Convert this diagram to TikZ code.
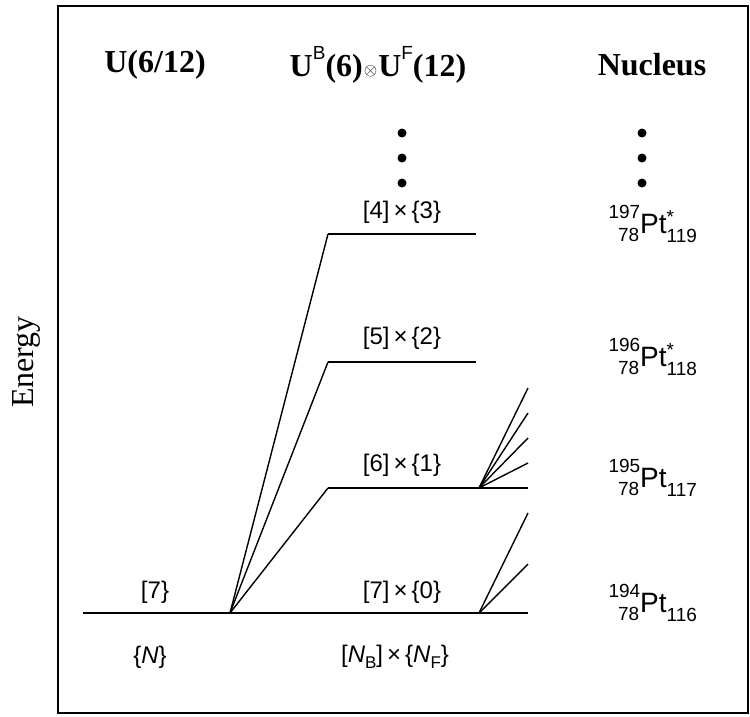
\documentclass[tikz,border=0pt]{standalone}
\usepackage{fontspec}
\setmainfont{Liberation Serif}
\newfontfamily\lab{Liberation Sans}
\newcommand\nucl[4]{%
  {\fontsize{19}{19}\selectfont
   \makebox[33pt][r]{\raisebox{15pt}{#1}}\llap{\raisebox{-8pt}{#2}\hspace{1pt}}}%
  {\fontsize{28}{28}\selectfont Pt}%
  {\fontsize{19}{19}\selectfont
   \rlap{\raisebox{10pt}{#3}}\raisebox{-9pt}{#4}}}
\newcommand\hsup[1]{\raisebox{17pt}{\lab\mdseries\fontsize{19}{19}\selectfont #1}}
\begin{document}
\begin{tikzpicture}[x=1pt,y=-1pt,
  bar/.style={line width=2.8pt},
  fan/.style={line width=1.4pt},
  lvl/.style={font=\lab\fontsize{24}{24}\selectfont, inner sep=0pt},
  hdr/.style={font=\bfseries\fontsize{32}{32}\selectfont, inner sep=0pt},
  nuc/.style={font=\lab, inner sep=0pt, anchor=base west},
  vdot/.style={circle, fill, inner sep=0pt, minimum size=9pt}]
\useasboundingbox (0,0) rectangle (750,716);
\draw[line width=2pt] (58,6) rectangle (748,713);
% headers
\node[hdr] (h1) at (155,65) {U(6/12)};
\node[hdr] (h2) at (378,65) {U\hsup{B}(6)\kern1pt\raisebox{1pt}{\fontsize{16}{16}\selectfont$\otimes$}\kern1ptU\hsup{F}(12)};
\node[hdr] (h3) at (652,65) {Nucleus};
\node[rotate=90, font=\fontsize{32}{32}\selectfont, inner sep=0pt] (en) at (26,362) {Energy};
% dots
\foreach \i/\yy in {1/133,2/158,3/183}{
  \node[vdot] (c\i) at (402,\yy) {};
  \node[vdot] (n\i) at (642,\yy) {};
}
% level coordinates
\coordinate (L4a) at (328,234); \coordinate (L4b) at (476,234);
\coordinate (L5a) at (328,362); \coordinate (L5b) at (476,362);
\coordinate (L6a) at (328,488); \coordinate (L6b) at (528,488);
\coordinate (L0a) at (83,613);  \coordinate (L0b) at (528,613);
\coordinate (F0) at (230,613);
\coordinate (F6) at (479,488);
\coordinate (F7) at (479,613);
\draw[bar] (L4a) -- (L4b);
\draw[bar] (L5a) -- (L5b);
\draw[bar] (L6a) -- (L6b);
\draw[bar] (L0a) -- (L0b);
\draw[fan] (F0) -- (L4a);
\draw[fan] (F0) -- (L5a);
\draw[fan] (F0) -- (L6a);
\foreach \yy [count=\k] in {388,413,438,463}{
  \coordinate (e6\k) at (528,\yy);
  \draw[fan] (F6) -- (e6\k);
}
\foreach \yy [count=\k] in {513,564}{
  \coordinate (e7\k) at (528,\yy);
  \draw[fan] (F7) -- (e7\k);
}
% level labels
\node[lvl] (t4) at (402,212) {[4]\,×\,\{3\}};
\node[lvl] (t5) at (402,338) {[5]\,×\,\{2\}};
\node[lvl] (t6) at (402,465) {[6]\,×\,\{1\}};
\node[lvl] (t7) at (402,592) {[7]\,×\,\{0\}};
\node[lvl] (u7) at (155,592) {[7\}};
\node[lvl] (uN) at (150,657) {\{\textit{N}\}};
\node[lvl] (uNB) at (395,657) {[\textit{N}\raisebox{-6pt}{\fontsize{17}{17}\selectfont B}]\,×\,\{\textit{N}\raisebox{-6pt}{\fontsize{17}{17}\selectfont F}\}};
% nuclei
\node[nuc] (p197) at (607,233) {\nucl{197}{78}{*}{119}};
\node[nuc] (p196) at (607,366) {\nucl{196}{78}{*}{118}};
\node[nuc] (p195) at (607,487) {\nucl{195}{78}{}{117}};
\node[nuc] (p194) at (607,612) {\nucl{194}{78}{}{116}};
\end{tikzpicture}
\end{document}
